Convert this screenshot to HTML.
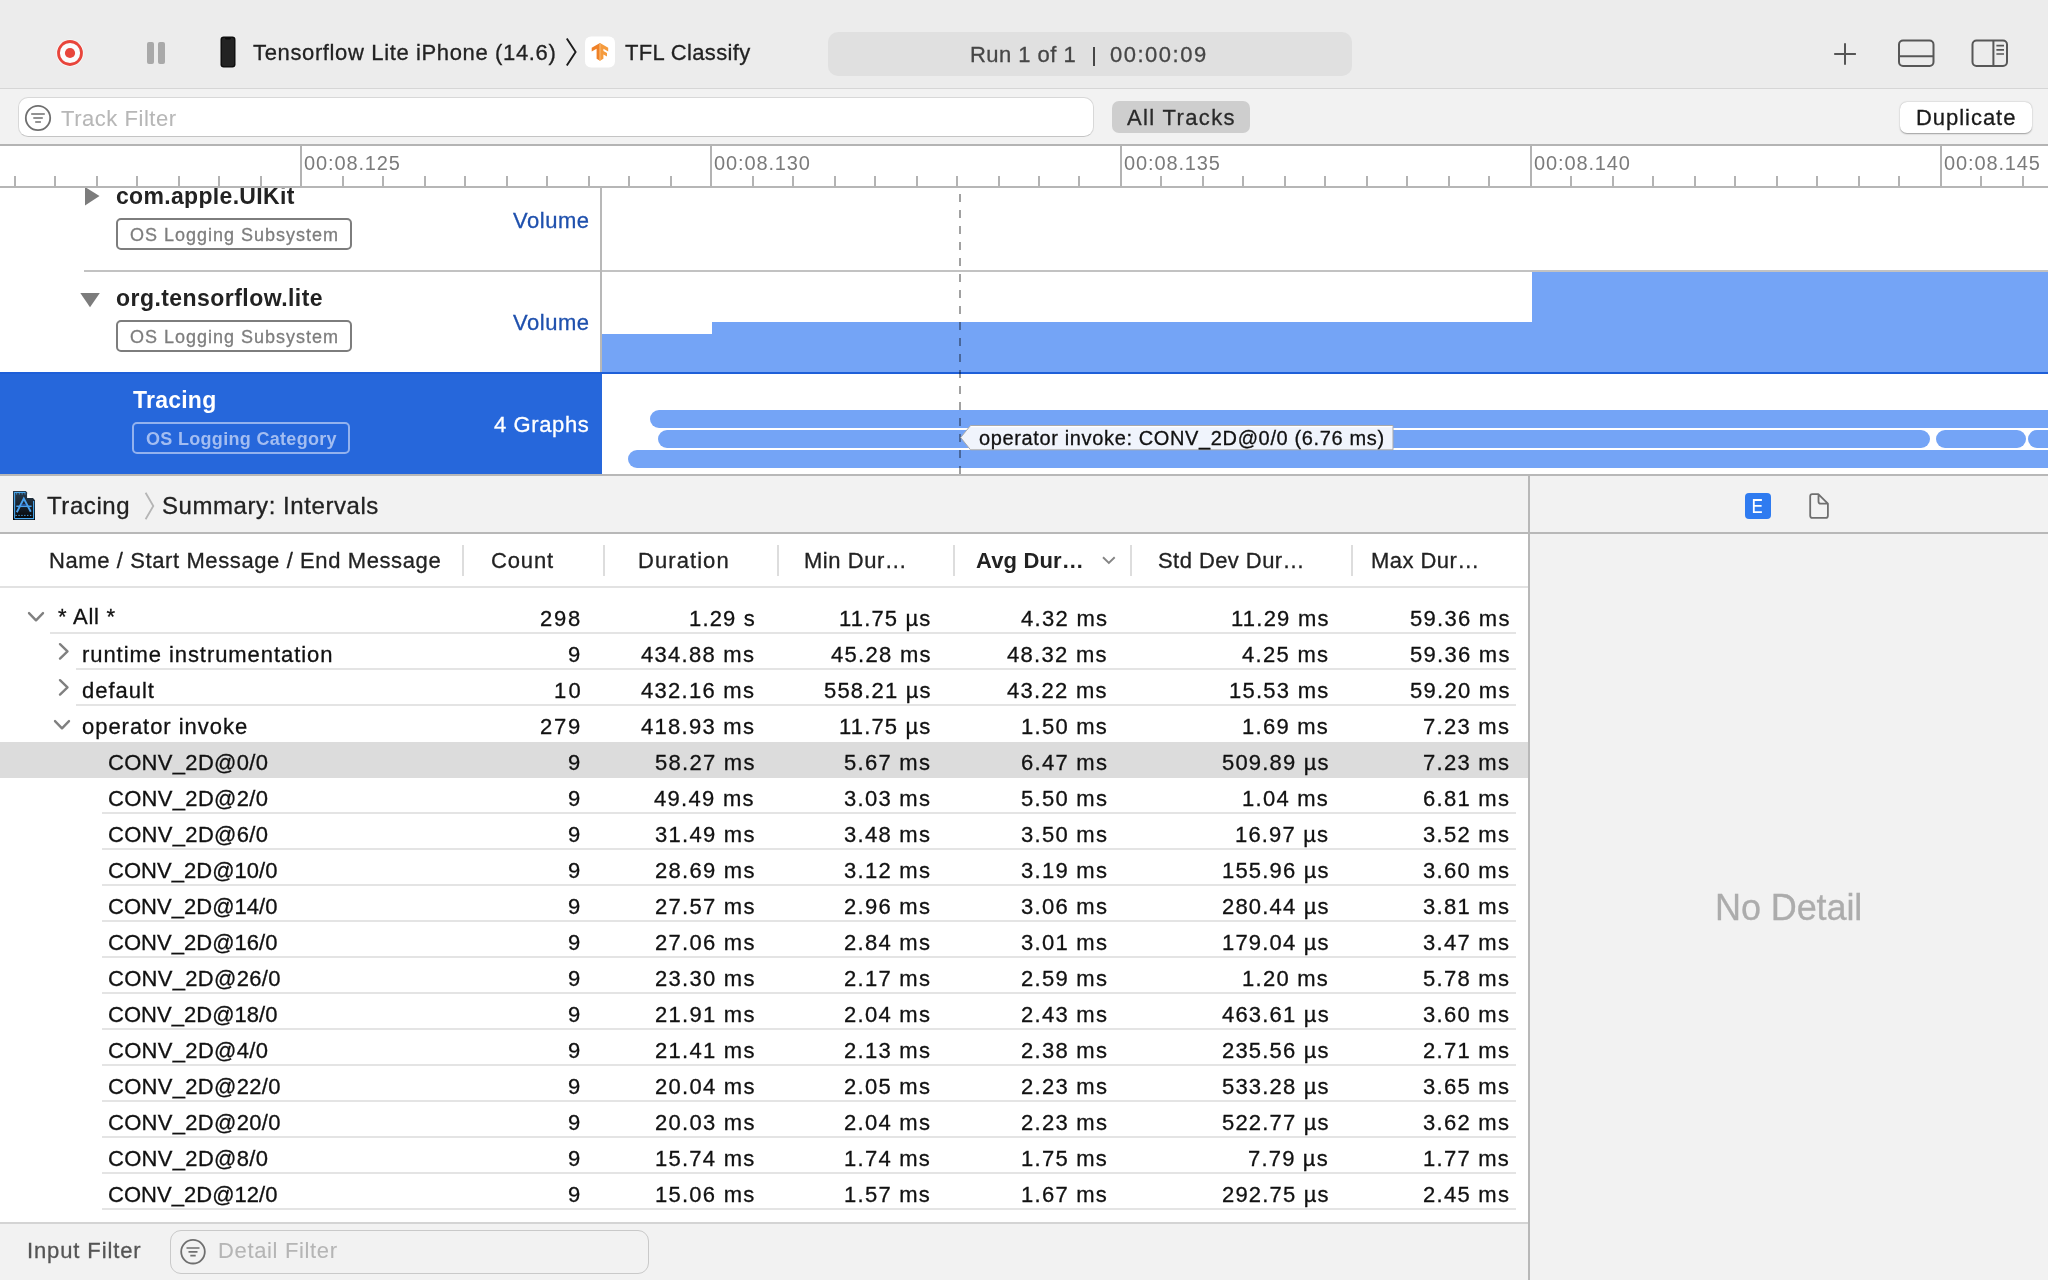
<!DOCTYPE html>
<html><head><meta charset="utf-8"><style>
html,body{margin:0;padding:0;width:2048px;height:1280px;overflow:hidden;background:#fff;font-family:"Liberation Sans",sans-serif;}
.t{position:absolute;white-space:pre;will-change:transform;}
</style></head><body>
<div style="position:absolute;left:0px;top:0px;width:2048px;height:88px;background:#ececec;"></div><div style="position:absolute;left:0px;top:88px;width:2048px;height:1px;background:#d6d6d6;"></div><div style="position:absolute;left:0px;top:89px;width:2048px;height:55px;background:#f2f2f2;"></div><div style="position:absolute;left:0px;top:144px;width:2048px;height:2px;background:#b4b4b4;"></div><div style="position:absolute;left:0px;top:146px;width:2048px;height:40px;background:#ffffff;"></div><div style="position:absolute;left:0px;top:186px;width:2048px;height:2px;background:#b6b6b6;"></div><div style="position:absolute;left:0px;top:188px;width:2048px;height:286px;background:#ffffff;"></div><div style="position:absolute;left:0px;top:474px;width:2048px;height:2px;background:#b8b8b8;"></div><div style="position:absolute;left:0px;top:476px;width:2048px;height:56px;background:#f2f2f2;"></div><div style="position:absolute;left:0px;top:532px;width:2048px;height:2px;background:#b8b8b8;"></div><div style="position:absolute;left:0px;top:534px;width:1528px;height:688px;background:#ffffff;"></div><div style="position:absolute;left:1528px;top:476px;width:2px;height:804px;background:#b8b8b8;"></div><div style="position:absolute;left:1530px;top:534px;width:518px;height:746px;background:#f2f2f2;"></div><div style="position:absolute;left:0px;top:1222px;width:1528px;height:2px;background:#d4d4d4;"></div><div style="position:absolute;left:0px;top:1224px;width:1528px;height:56px;background:#f2f2f2;"></div><svg style="position:absolute;left:0;top:0" width="2048" height="88">
<circle cx="70" cy="53" r="13.6" fill="#fbfbfb"/>
<circle cx="70" cy="53" r="11.5" fill="none" stroke="#e8453b" stroke-width="2.8"/>
<circle cx="70" cy="53" r="5.1" fill="#e8453b"/>
<rect x="147" y="42" width="7" height="22" rx="2" fill="#a9a9a9"/>
<rect x="158" y="42" width="7" height="22" rx="2" fill="#a9a9a9"/>
<rect x="220.5" y="36.5" width="15" height="31" rx="3.2" fill="#0c0c0c"/>
<rect x="221.8" y="37.8" width="12.4" height="28.4" rx="2.2" fill="#232323"/>
<path d="M225 37.8 H231 V38.6 Q231 39.4 230 39.4 H226 Q225 39.4 225 38.6 Z" fill="#0c0c0c"/>
<path d="M566.8 38.6 L575.6 52 L566.8 65.4" fill="none" stroke="#1c1c1c" stroke-width="1.9"/>
<rect x="585" y="36.5" width="30" height="31" rx="6" fill="#ffffff"/>
<path d="M600 43 L591.7 47.8 L591.7 51.6 L596.6 48.8 L596.6 58.8 L600 60.8 Z" fill="#ef8127"/>
<path d="M600 43 L608.2 47.8 L608.2 51.6 L603.4 48.8 L603.4 50.9 L607 53 L607 56.6 L603.4 54.5 L603.4 58.8 L600 60.8 Z" fill="#f59b3d"/>
<path d="M599.3 43.4 L600.7 43.4 L600.7 60.4 L599.3 60.4 Z" fill="#f8b46a"/>
<path d="M1845 43.2 V64.7 M1834.2 54 H1855.9" stroke="#555555" stroke-width="2"/>
<rect x="1899" y="40.5" width="34.5" height="25.5" rx="4" fill="none" stroke="#575757" stroke-width="2"/>
<path d="M1899 56.3 H1933.5" stroke="#575757" stroke-width="2"/>
<rect x="1972.5" y="40.5" width="34.5" height="25.5" rx="4" fill="none" stroke="#575757" stroke-width="2"/>
<path d="M1993.4 40.5 V66" stroke="#575757" stroke-width="2"/>
<path d="M1996.4 45.7 H2004 M1996.4 49.9 H2004 M1996.4 54 H2004" stroke="#555555" stroke-width="1.7"/>
</svg><div style="position:absolute;left:828px;top:32px;width:524px;height:44px;background:#e0e0e0;border-radius:10px;"></div><div style="position:absolute;left:1093px;top:46.5px;width:2px;height:19px;background:#464646;"></div><div style="position:absolute;left:18px;top:97px;width:1076px;height:40px;background:#ffffff;border-radius:10px;box-sizing:border-box;border:1px solid #d8d8d8;border-bottom-color:#c4c4c4;"></div><svg style="position:absolute;left:0;top:89" width="200" height="55">
<circle cx="38" cy="29" r="12.2" fill="none" stroke="#6f6f6f" stroke-width="1.8"/>
<path d="M31.2 25 H44.8 M33.3 29 H42.8 M35.2 33 H40.9" stroke="#6f6f6f" stroke-width="1.7"/>
</svg><div style="position:absolute;left:1112px;top:101px;width:138px;height:32px;background:#cecece;border-radius:7px;"></div><div style="position:absolute;left:1900px;top:102px;width:132px;height:31px;background:#ffffff;border-radius:7px;box-shadow:0 0.5px 1.5px rgba(0,0,0,0.35);"></div><svg style="position:absolute;left:0;top:146px" width="2048" height="40"><rect x="14" y="30" width="2" height="10" fill="#b3b3b3"/><rect x="54" y="30" width="2" height="10" fill="#b3b3b3"/><rect x="96" y="30" width="2" height="10" fill="#b3b3b3"/><rect x="136" y="30" width="2" height="10" fill="#b3b3b3"/><rect x="178" y="30" width="2" height="10" fill="#b3b3b3"/><rect x="218" y="30" width="2" height="10" fill="#b3b3b3"/><rect x="260" y="30" width="2" height="10" fill="#b3b3b3"/><rect x="300" y="0" width="2" height="40" fill="#b3b3b3"/><rect x="342" y="30" width="2" height="10" fill="#b3b3b3"/><rect x="382" y="30" width="2" height="10" fill="#b3b3b3"/><rect x="424" y="30" width="2" height="10" fill="#b3b3b3"/><rect x="464" y="30" width="2" height="10" fill="#b3b3b3"/><rect x="506" y="30" width="2" height="10" fill="#b3b3b3"/><rect x="546" y="30" width="2" height="10" fill="#b3b3b3"/><rect x="588" y="30" width="2" height="10" fill="#b3b3b3"/><rect x="628" y="30" width="2" height="10" fill="#b3b3b3"/><rect x="670" y="30" width="2" height="10" fill="#b3b3b3"/><rect x="710" y="0" width="2" height="40" fill="#b3b3b3"/><rect x="752" y="30" width="2" height="10" fill="#b3b3b3"/><rect x="792" y="30" width="2" height="10" fill="#b3b3b3"/><rect x="834" y="30" width="2" height="10" fill="#b3b3b3"/><rect x="874" y="30" width="2" height="10" fill="#b3b3b3"/><rect x="916" y="30" width="2" height="10" fill="#b3b3b3"/><rect x="956" y="30" width="2" height="10" fill="#b3b3b3"/><rect x="998" y="30" width="2" height="10" fill="#b3b3b3"/><rect x="1038" y="30" width="2" height="10" fill="#b3b3b3"/><rect x="1078" y="30" width="2" height="10" fill="#b3b3b3"/><rect x="1120" y="0" width="2" height="40" fill="#b3b3b3"/><rect x="1160" y="30" width="2" height="10" fill="#b3b3b3"/><rect x="1202" y="30" width="2" height="10" fill="#b3b3b3"/><rect x="1242" y="30" width="2" height="10" fill="#b3b3b3"/><rect x="1284" y="30" width="2" height="10" fill="#b3b3b3"/><rect x="1324" y="30" width="2" height="10" fill="#b3b3b3"/><rect x="1366" y="30" width="2" height="10" fill="#b3b3b3"/><rect x="1406" y="30" width="2" height="10" fill="#b3b3b3"/><rect x="1448" y="30" width="2" height="10" fill="#b3b3b3"/><rect x="1488" y="30" width="2" height="10" fill="#b3b3b3"/><rect x="1530" y="0" width="2" height="40" fill="#b3b3b3"/><rect x="1570" y="30" width="2" height="10" fill="#b3b3b3"/><rect x="1612" y="30" width="2" height="10" fill="#b3b3b3"/><rect x="1652" y="30" width="2" height="10" fill="#b3b3b3"/><rect x="1694" y="30" width="2" height="10" fill="#b3b3b3"/><rect x="1734" y="30" width="2" height="10" fill="#b3b3b3"/><rect x="1776" y="30" width="2" height="10" fill="#b3b3b3"/><rect x="1816" y="30" width="2" height="10" fill="#b3b3b3"/><rect x="1858" y="30" width="2" height="10" fill="#b3b3b3"/><rect x="1898" y="30" width="2" height="10" fill="#b3b3b3"/><rect x="1940" y="0" width="2" height="40" fill="#b3b3b3"/><rect x="1980" y="30" width="2" height="10" fill="#b3b3b3"/><rect x="2022" y="30" width="2" height="10" fill="#b3b3b3"/></svg><svg style="position:absolute;left:0;top:188px" width="600" height="20"><path d="M85 -1 L99.5 8 L85 17.5 Z" fill="#7c7c7c"/></svg><div style="position:absolute;left:116px;top:218px;width:236px;height:32px;background:transparent;box-sizing:border-box;border:2px solid #7d7d7d;border-radius:5px;"></div><div style="position:absolute;left:84px;top:270px;width:1964px;height:2px;background:#c2c2c2;"></div><div style="position:absolute;left:600px;top:188px;width:2px;height:184px;background:#b8b8b8;"></div><svg style="position:absolute;left:0;top:272px" width="600" height="60"><path d="M80.3 21 L99.8 21 L90 35.3 Z" fill="#7c7c7c"/></svg><div style="position:absolute;left:116px;top:320px;width:236px;height:32px;background:transparent;box-sizing:border-box;border:2px solid #7d7d7d;border-radius:5px;"></div><div style="position:absolute;left:602px;top:334px;width:110px;height:38px;background:#74a4f6;"></div><div style="position:absolute;left:712px;top:322px;width:820px;height:50px;background:#74a4f6;"></div><div style="position:absolute;left:1532px;top:272px;width:516px;height:100px;background:#74a4f6;"></div><div style="position:absolute;left:0px;top:372px;width:2048px;height:2px;background:#1e5fd8;"></div><div style="position:absolute;left:0px;top:374px;width:602px;height:100px;background:#2667db;"></div><div style="position:absolute;left:132px;top:422px;width:218px;height:32px;background:transparent;box-sizing:border-box;border:2px solid #93b2ee;border-radius:5px;"></div><div style="position:absolute;left:650px;top:410px;width:1420px;height:18px;background:#74a4f6;border-radius:9px;"></div><div style="position:absolute;left:658px;top:430px;width:1271.5px;height:18px;background:#74a4f6;border-radius:9px;"></div><div style="position:absolute;left:1936px;top:430px;width:90px;height:18px;background:#74a4f6;border-radius:9px;"></div><div style="position:absolute;left:2028px;top:430px;width:60px;height:18px;background:#74a4f6;border-radius:9px;"></div><div style="position:absolute;left:628px;top:450px;width:1440px;height:18px;background:#74a4f6;border-radius:9px;"></div><svg style="position:absolute;left:958px;top:188px" width="4" height="286"><path d="M2 6 V286" stroke="rgba(0,0,0,0.37)" stroke-width="2" stroke-dasharray="8 8"/></svg><svg style="position:absolute;left:955px;top:420px" width="445" height="36">
<path d="M15.5 5.5 H438 V29.8 H15.5 L5.7 17.6 Z" fill="#f0f4fc" stroke="#a9a9a9" stroke-width="1"/><path d="M16 6.6 H437.3" stroke="#ffffff" stroke-width="1.2"/>
</svg><svg style="position:absolute;left:0;top:476px" width="200" height="56">
<defs><linearGradient id="dg" x1="0" y1="0" x2="0" y2="1"><stop offset="0" stop-color="#2a3d4f"/><stop offset="0.55" stop-color="#16202a"/><stop offset="1" stop-color="#030303"/></linearGradient></defs>
<g transform="translate(0,-476)">
<path d="M13 491 H25.8 L27.2 492.6 V498 H33 L35 500.2 V520 H13 Z" fill="url(#dg)"/>
<path d="M27.3 493.3 V497.9 H32.2 Z" fill="#ffffff"/>
<path d="M14.6 518.6 V492.5 H25.5 M33.6 501 V518.6 H14.6" fill="none" stroke="#4aa8ee" stroke-width="1.1"/>
<path d="M16 493.9 H26" stroke="#4aa8ee" stroke-width="0.9" stroke-dasharray="1.2 1.6"/>
<path d="M15.5 515.4 H33" stroke="#4aa8ee" stroke-width="1" stroke-dasharray="1.3 1.6"/>
<path d="M15.2 517.2 H33" stroke="#0a0a0a" stroke-width="0.8"/>
<path d="M16.8 512.3 L23.8 498.6 L30.8 511.8" fill="none" stroke="#4aa3f0" stroke-width="1.9"/>
<path d="M16.3 506.3 H31.6" stroke="#4aa3f0" stroke-width="1.5"/>
<path d="M21.6 504.8 H26.2" stroke="#2a5fc0" stroke-width="1"/>
</g>
<path d="M145.6 16.8 L153.3 30 L145.6 43.2" fill="none" stroke="#b5b5b5" stroke-width="1.8"/>
</svg><div style="position:absolute;left:1745px;top:493px;width:26px;height:26px;background:#2f7bf0;border-radius:4px;"></div><svg style="position:absolute;left:1745px;top:493px" width="26" height="26"><path d="M16.9 7 H8.8 V19.1 H16.9 M8.8 12.9 H16.6" fill="none" stroke="#ffffff" stroke-width="1.8"/></svg><svg style="position:absolute;left:1800px;top:488px" width="40" height="40">
<path d="M12.3 6.1 H18.3 L27.9 15.7 V27.7 Q27.9 29.9 25.7 29.9 H12.4 Q10.2 29.9 10.2 27.7 V8.3 Q10.2 6.1 12.3 6.1 Z M18.5 6.1 V13.5 Q18.5 15.7 20.7 15.7 H27.9" fill="none" stroke="#6f6f6f" stroke-width="1.8" stroke-linejoin="round"/>
</svg><div style="position:absolute;left:462px;top:545px;width:2px;height:31px;background:#dddddd;"></div><div style="position:absolute;left:603px;top:545px;width:2px;height:31px;background:#dddddd;"></div><div style="position:absolute;left:777px;top:545px;width:2px;height:31px;background:#dddddd;"></div><div style="position:absolute;left:953px;top:545px;width:2px;height:31px;background:#dddddd;"></div><div style="position:absolute;left:1130px;top:545px;width:2px;height:31px;background:#dddddd;"></div><div style="position:absolute;left:1351px;top:545px;width:2px;height:31px;background:#dddddd;"></div><div style="position:absolute;left:0px;top:586px;width:1528px;height:2px;background:#e2e2e2;"></div><svg style="position:absolute;left:1095px;top:548px" width="28" height="24"><path d="M8 9.2 L13.85 14.9 L19.7 9.2" fill="none" stroke="#858585" stroke-width="1.9"/></svg><div style="position:absolute;left:0px;top:742px;width:1528px;height:36px;background:#dcdcdc;"></div><div style="position:absolute;left:50px;top:632px;width:1466px;height:2px;background:#e4e4e4;"></div><div style="position:absolute;left:76px;top:668px;width:1440px;height:2px;background:#e4e4e4;"></div><div style="position:absolute;left:76px;top:704px;width:1440px;height:2px;background:#e4e4e4;"></div><div style="position:absolute;left:102px;top:812px;width:1414px;height:2px;background:#e4e4e4;"></div><div style="position:absolute;left:102px;top:848px;width:1414px;height:2px;background:#e4e4e4;"></div><div style="position:absolute;left:102px;top:884px;width:1414px;height:2px;background:#e4e4e4;"></div><div style="position:absolute;left:102px;top:920px;width:1414px;height:2px;background:#e4e4e4;"></div><div style="position:absolute;left:102px;top:956px;width:1414px;height:2px;background:#e4e4e4;"></div><div style="position:absolute;left:102px;top:992px;width:1414px;height:2px;background:#e4e4e4;"></div><div style="position:absolute;left:102px;top:1028px;width:1414px;height:2px;background:#e4e4e4;"></div><div style="position:absolute;left:102px;top:1064px;width:1414px;height:2px;background:#e4e4e4;"></div><div style="position:absolute;left:102px;top:1100px;width:1414px;height:2px;background:#e4e4e4;"></div><div style="position:absolute;left:102px;top:1136px;width:1414px;height:2px;background:#e4e4e4;"></div><div style="position:absolute;left:102px;top:1172px;width:1414px;height:2px;background:#e4e4e4;"></div><div style="position:absolute;left:102px;top:1208px;width:1414px;height:2px;background:#e4e4e4;"></div><svg style="position:absolute;left:0;top:0" width="200" height="800"><path d="M29 613.1 L36 620.3 L43 613.1" fill="none" stroke="#808080" stroke-width="2.4" stroke-linecap="round" stroke-linejoin="round"/><path d="M60 644.2 L67.5 651.4 L60 658.6" fill="none" stroke="#808080" stroke-width="2.4" stroke-linecap="round" stroke-linejoin="round"/><path d="M60 680.2 L67.5 687.4 L60 694.6" fill="none" stroke="#808080" stroke-width="2.4" stroke-linecap="round" stroke-linejoin="round"/><path d="M55 721.1 L62 728.3 L69 721.1" fill="none" stroke="#808080" stroke-width="2.4" stroke-linecap="round" stroke-linejoin="round"/></svg><div style="position:absolute;left:170px;top:1230px;width:479px;height:44px;background:transparent;box-sizing:border-box;border:1px solid #c9c9c9;border-radius:11px;"></div><svg style="position:absolute;left:170px;top:1230px" width="60" height="44">
<circle cx="23" cy="21.7" r="11.8" fill="none" stroke="#6f6f6f" stroke-width="1.8"/>
<path d="M16.5 18 H29.5 M18.5 21.9 H27.5 M20.3 25.7 H25.7" stroke="#6f6f6f" stroke-width="1.7"/>
</svg>
<div class="t" style="left:252.90px;top:42px;font-size:22px;line-height:22px;color:#222;letter-spacing:0.636px;-webkit-text-stroke:0.3px #222;">Tensorflow Lite iPhone (14.6)</div><div class="t" style="left:625.00px;top:42px;font-size:22px;line-height:22px;color:#222;letter-spacing:0.345px;-webkit-text-stroke:0.3px #222;">TFL Classify</div><div class="t" style="left:969.70px;top:44px;font-size:22px;line-height:22px;color:#464646;letter-spacing:0.467px;-webkit-text-stroke:0.3px #464646;">Run 1 of 1</div><div class="t" style="left:1109.80px;top:44px;font-size:22px;line-height:22px;color:#464646;letter-spacing:1.500px;-webkit-text-stroke:0.3px #464646;">00:00:09</div><div class="t" style="left:60.90px;top:108px;font-size:22px;line-height:22px;color:#b7b7b7;letter-spacing:0.536px;-webkit-text-stroke:0.1px #b7b7b7;">Track Filter</div><div class="t" style="left:1127.30px;top:107px;font-size:22px;line-height:22px;color:#2a2a2a;letter-spacing:1.356px;-webkit-text-stroke:0.3px #2a2a2a;">All Tracks</div><div class="t" style="left:1915.50px;top:107px;font-size:22px;line-height:22px;color:#1a1a1a;letter-spacing:0.963px;-webkit-text-stroke:0.3px #1a1a1a;">Duplicate</div><div class="t" style="left:304.30px;top:153px;font-size:20px;line-height:20px;color:#7b7b7b;letter-spacing:0.875px;-webkit-text-stroke:0px #7b7b7b;">00:08.125</div><div class="t" style="left:714.30px;top:153px;font-size:20px;line-height:20px;color:#7b7b7b;letter-spacing:0.875px;-webkit-text-stroke:0px #7b7b7b;">00:08.130</div><div class="t" style="left:1124.30px;top:153px;font-size:20px;line-height:20px;color:#7b7b7b;letter-spacing:0.875px;-webkit-text-stroke:0px #7b7b7b;">00:08.135</div><div class="t" style="left:1534.30px;top:153px;font-size:20px;line-height:20px;color:#7b7b7b;letter-spacing:0.875px;-webkit-text-stroke:0px #7b7b7b;">00:08.140</div><div class="t" style="left:1944.30px;top:153px;font-size:20px;line-height:20px;color:#7b7b7b;letter-spacing:0.875px;-webkit-text-stroke:0px #7b7b7b;">00:08.145</div><div class="t" style="left:115.60px;top:185px;font-size:23px;line-height:23px;color:#222;letter-spacing:0.321px;font-weight:700;clip-path:inset(3px -50px 0 -50px);">com.apple.UIKit</div><div class="t" style="left:129.80px;top:226px;font-size:18px;line-height:18px;color:#7d7d7d;letter-spacing:1.000px;-webkit-text-stroke:0.3px #7d7d7d;">OS Logging Subsystem</div><div class="t" style="left:512.50px;top:210px;font-size:22px;line-height:22px;color:#1f50ad;letter-spacing:0.520px;-webkit-text-stroke:0.3px #1f50ad;">Volume</div><div class="t" style="left:116.00px;top:287px;font-size:23px;line-height:23px;color:#222;letter-spacing:0.450px;font-weight:700;">org.tensorflow.lite</div><div class="t" style="left:129.80px;top:328px;font-size:18px;line-height:18px;color:#7d7d7d;letter-spacing:1.000px;-webkit-text-stroke:0.3px #7d7d7d;">OS Logging Subsystem</div><div class="t" style="left:512.50px;top:312px;font-size:22px;line-height:22px;color:#1f50ad;letter-spacing:0.520px;-webkit-text-stroke:0.3px #1f50ad;">Volume</div><div class="t" style="left:132.90px;top:389px;font-size:23px;line-height:23px;color:#ffffff;letter-spacing:0.233px;font-weight:700;">Tracing</div><div class="t" style="left:145.70px;top:430px;font-size:18px;line-height:18px;color:#a3bdf1;letter-spacing:0.311px;font-weight:700;">OS Logging Category</div><div class="t" style="left:493.80px;top:414px;font-size:22px;line-height:22px;color:#ffffff;letter-spacing:0.614px;-webkit-text-stroke:0.3px #ffffff;">4 Graphs</div><div class="t" style="left:978.70px;top:428px;font-size:20px;line-height:20px;color:#111;letter-spacing:0.635px;-webkit-text-stroke:0.3px #111;">operator invoke: CONV_2D@0/0 (6.76 ms)</div><div class="t" style="left:46.90px;top:494px;font-size:24px;line-height:24px;color:#222;letter-spacing:0.583px;-webkit-text-stroke:0.3px #222;">Tracing</div><div class="t" style="left:162.10px;top:494px;font-size:24px;line-height:24px;color:#222;letter-spacing:0.565px;-webkit-text-stroke:0.3px #222;">Summary: Intervals</div><div class="t" style="left:1714.80px;top:890px;font-size:36px;line-height:36px;color:#acacac;letter-spacing:-0.087px;-webkit-text-stroke:0.3px #acacac;">No Detail</div><div class="t" style="left:49.30px;top:550px;font-size:22px;line-height:22px;color:#222;letter-spacing:0.603px;-webkit-text-stroke:0.3px #222;">Name / Start Message / End Message</div><div class="t" style="left:491.40px;top:550px;font-size:22px;line-height:22px;color:#222;letter-spacing:0.875px;-webkit-text-stroke:0.3px #222;">Count</div><div class="t" style="left:638.40px;top:550px;font-size:22px;line-height:22px;color:#222;letter-spacing:1.071px;-webkit-text-stroke:0.3px #222;">Duration</div><div class="t" style="left:804.00px;top:550px;font-size:22px;line-height:22px;color:#222;letter-spacing:0.543px;-webkit-text-stroke:0.3px #222;">Min Dur…</div><div class="t" style="left:975.60px;top:550px;font-size:22px;line-height:22px;color:#222;letter-spacing:0.143px;font-weight:700;">Avg Dur…</div><div class="t" style="left:1157.80px;top:550px;font-size:22px;line-height:22px;color:#222;letter-spacing:0.436px;-webkit-text-stroke:0.3px #222;">Std Dev Dur…</div><div class="t" style="left:1371.40px;top:550px;font-size:22px;line-height:22px;color:#222;letter-spacing:0.457px;-webkit-text-stroke:0.3px #222;">Max Dur…</div><div class="t" style="left:58.20px;top:606px;font-size:22px;line-height:22px;color:#111;letter-spacing:0.765px;-webkit-text-stroke:0.3px #111;">* All *</div><div class="t" style="left:540.20px;top:608px;font-size:22px;line-height:22px;color:#111;letter-spacing:1.750px;-webkit-text-stroke:0.3px #111;">298</div><div class="t" style="left:688.70px;top:608px;font-size:22px;line-height:22px;color:#111;letter-spacing:1.140px;-webkit-text-stroke:0.3px #111;">1.29 s</div><div class="t" style="left:838.80px;top:608px;font-size:22px;line-height:22px;color:#111;letter-spacing:1.157px;-webkit-text-stroke:0.3px #111;">11.75 µs</div><div class="t" style="left:1020.50px;top:608px;font-size:22px;line-height:22px;color:#111;letter-spacing:1.300px;-webkit-text-stroke:0.3px #111;">4.32 ms</div><div class="t" style="left:1230.90px;top:608px;font-size:22px;line-height:22px;color:#111;letter-spacing:1.229px;-webkit-text-stroke:0.3px #111;">11.29 ms</div><div class="t" style="left:1409.85px;top:608px;font-size:22px;line-height:22px;color:#111;letter-spacing:1.271px;-webkit-text-stroke:0.3px #111;">59.36 ms</div><div class="t" style="left:81.80px;top:644px;font-size:22px;line-height:22px;color:#111;letter-spacing:0.933px;-webkit-text-stroke:0.3px #111;">runtime instrumentation</div><div class="t" style="left:567.70px;top:644px;font-size:22px;line-height:22px;color:#111;letter-spacing:0.000px;-webkit-text-stroke:0.3px #111;">9</div><div class="t" style="left:641.20px;top:644px;font-size:22px;line-height:22px;color:#111;letter-spacing:1.275px;-webkit-text-stroke:0.3px #111;">434.88 ms</div><div class="t" style="left:830.90px;top:644px;font-size:22px;line-height:22px;color:#111;letter-spacing:1.286px;-webkit-text-stroke:0.3px #111;">45.28 ms</div><div class="t" style="left:1007.30px;top:644px;font-size:22px;line-height:22px;color:#111;letter-spacing:1.286px;-webkit-text-stroke:0.3px #111;">48.32 ms</div><div class="t" style="left:1241.70px;top:644px;font-size:22px;line-height:22px;color:#111;letter-spacing:1.300px;-webkit-text-stroke:0.3px #111;">4.25 ms</div><div class="t" style="left:1409.85px;top:644px;font-size:22px;line-height:22px;color:#111;letter-spacing:1.271px;-webkit-text-stroke:0.3px #111;">59.36 ms</div><div class="t" style="left:81.80px;top:680px;font-size:22px;line-height:22px;color:#111;letter-spacing:0.975px;-webkit-text-stroke:0.3px #111;">default</div><div class="t" style="left:553.50px;top:680px;font-size:22px;line-height:22px;color:#111;letter-spacing:2.200px;-webkit-text-stroke:0.3px #111;">10</div><div class="t" style="left:641.20px;top:680px;font-size:22px;line-height:22px;color:#111;letter-spacing:1.275px;-webkit-text-stroke:0.3px #111;">432.16 ms</div><div class="t" style="left:824.40px;top:680px;font-size:22px;line-height:22px;color:#111;letter-spacing:1.188px;-webkit-text-stroke:0.3px #111;">558.21 µs</div><div class="t" style="left:1007.30px;top:680px;font-size:22px;line-height:22px;color:#111;letter-spacing:1.286px;-webkit-text-stroke:0.3px #111;">43.22 ms</div><div class="t" style="left:1228.70px;top:680px;font-size:22px;line-height:22px;color:#111;letter-spacing:1.257px;-webkit-text-stroke:0.3px #111;">15.53 ms</div><div class="t" style="left:1409.85px;top:680px;font-size:22px;line-height:22px;color:#111;letter-spacing:1.271px;-webkit-text-stroke:0.3px #111;">59.20 ms</div><div class="t" style="left:81.80px;top:716px;font-size:22px;line-height:22px;color:#111;letter-spacing:0.964px;-webkit-text-stroke:0.3px #111;">operator invoke</div><div class="t" style="left:540.20px;top:716px;font-size:22px;line-height:22px;color:#111;letter-spacing:1.750px;-webkit-text-stroke:0.3px #111;">279</div><div class="t" style="left:641.20px;top:716px;font-size:22px;line-height:22px;color:#111;letter-spacing:1.275px;-webkit-text-stroke:0.3px #111;">418.93 ms</div><div class="t" style="left:838.80px;top:716px;font-size:22px;line-height:22px;color:#111;letter-spacing:1.157px;-webkit-text-stroke:0.3px #111;">11.75 µs</div><div class="t" style="left:1020.70px;top:716px;font-size:22px;line-height:22px;color:#111;letter-spacing:1.267px;-webkit-text-stroke:0.3px #111;">1.50 ms</div><div class="t" style="left:1241.90px;top:716px;font-size:22px;line-height:22px;color:#111;letter-spacing:1.267px;-webkit-text-stroke:0.3px #111;">1.69 ms</div><div class="t" style="left:1423.05px;top:716px;font-size:22px;line-height:22px;color:#111;letter-spacing:1.283px;-webkit-text-stroke:0.3px #111;">7.23 ms</div><div class="t" style="left:108.10px;top:752px;font-size:22px;line-height:22px;color:#111;letter-spacing:0.310px;-webkit-text-stroke:0.3px #111;">CONV_2D@0/0</div><div class="t" style="left:567.70px;top:752px;font-size:22px;line-height:22px;color:#111;letter-spacing:0.000px;-webkit-text-stroke:0.3px #111;">9</div><div class="t" style="left:654.50px;top:752px;font-size:22px;line-height:22px;color:#111;letter-spacing:1.271px;-webkit-text-stroke:0.3px #111;">58.27 ms</div><div class="t" style="left:844.20px;top:752px;font-size:22px;line-height:22px;color:#111;letter-spacing:1.283px;-webkit-text-stroke:0.3px #111;">5.67 ms</div><div class="t" style="left:1020.60px;top:752px;font-size:22px;line-height:22px;color:#111;letter-spacing:1.283px;-webkit-text-stroke:0.3px #111;">6.47 ms</div><div class="t" style="left:1222.00px;top:752px;font-size:22px;line-height:22px;color:#111;letter-spacing:1.188px;-webkit-text-stroke:0.3px #111;">509.89 µs</div><div class="t" style="left:1423.05px;top:752px;font-size:22px;line-height:22px;color:#111;letter-spacing:1.283px;-webkit-text-stroke:0.3px #111;">7.23 ms</div><div class="t" style="left:108.10px;top:788px;font-size:22px;line-height:22px;color:#111;letter-spacing:0.310px;-webkit-text-stroke:0.3px #111;">CONV_2D@2/0</div><div class="t" style="left:567.70px;top:788px;font-size:22px;line-height:22px;color:#111;letter-spacing:0.000px;-webkit-text-stroke:0.3px #111;">9</div><div class="t" style="left:654.40px;top:788px;font-size:22px;line-height:22px;color:#111;letter-spacing:1.286px;-webkit-text-stroke:0.3px #111;">49.49 ms</div><div class="t" style="left:844.20px;top:788px;font-size:22px;line-height:22px;color:#111;letter-spacing:1.283px;-webkit-text-stroke:0.3px #111;">3.03 ms</div><div class="t" style="left:1020.60px;top:788px;font-size:22px;line-height:22px;color:#111;letter-spacing:1.283px;-webkit-text-stroke:0.3px #111;">5.50 ms</div><div class="t" style="left:1241.90px;top:788px;font-size:22px;line-height:22px;color:#111;letter-spacing:1.267px;-webkit-text-stroke:0.3px #111;">1.04 ms</div><div class="t" style="left:1423.05px;top:788px;font-size:22px;line-height:22px;color:#111;letter-spacing:1.283px;-webkit-text-stroke:0.3px #111;">6.81 ms</div><div class="t" style="left:108.10px;top:824px;font-size:22px;line-height:22px;color:#111;letter-spacing:0.310px;-webkit-text-stroke:0.3px #111;">CONV_2D@6/0</div><div class="t" style="left:567.70px;top:824px;font-size:22px;line-height:22px;color:#111;letter-spacing:0.000px;-webkit-text-stroke:0.3px #111;">9</div><div class="t" style="left:654.50px;top:824px;font-size:22px;line-height:22px;color:#111;letter-spacing:1.271px;-webkit-text-stroke:0.3px #111;">31.49 ms</div><div class="t" style="left:844.20px;top:824px;font-size:22px;line-height:22px;color:#111;letter-spacing:1.283px;-webkit-text-stroke:0.3px #111;">3.48 ms</div><div class="t" style="left:1020.60px;top:824px;font-size:22px;line-height:22px;color:#111;letter-spacing:1.283px;-webkit-text-stroke:0.3px #111;">3.50 ms</div><div class="t" style="left:1235.30px;top:824px;font-size:22px;line-height:22px;color:#111;letter-spacing:1.171px;-webkit-text-stroke:0.3px #111;">16.97 µs</div><div class="t" style="left:1423.05px;top:824px;font-size:22px;line-height:22px;color:#111;letter-spacing:1.283px;-webkit-text-stroke:0.3px #111;">3.52 ms</div><div class="t" style="left:108.10px;top:860px;font-size:22px;line-height:22px;color:#111;letter-spacing:0.040px;-webkit-text-stroke:0.3px #111;">CONV_2D@10/0</div><div class="t" style="left:567.70px;top:860px;font-size:22px;line-height:22px;color:#111;letter-spacing:0.000px;-webkit-text-stroke:0.3px #111;">9</div><div class="t" style="left:654.50px;top:860px;font-size:22px;line-height:22px;color:#111;letter-spacing:1.271px;-webkit-text-stroke:0.3px #111;">28.69 ms</div><div class="t" style="left:844.20px;top:860px;font-size:22px;line-height:22px;color:#111;letter-spacing:1.283px;-webkit-text-stroke:0.3px #111;">3.12 ms</div><div class="t" style="left:1020.60px;top:860px;font-size:22px;line-height:22px;color:#111;letter-spacing:1.283px;-webkit-text-stroke:0.3px #111;">3.19 ms</div><div class="t" style="left:1222.10px;top:860px;font-size:22px;line-height:22px;color:#111;letter-spacing:1.175px;-webkit-text-stroke:0.3px #111;">155.96 µs</div><div class="t" style="left:1423.05px;top:860px;font-size:22px;line-height:22px;color:#111;letter-spacing:1.283px;-webkit-text-stroke:0.3px #111;">3.60 ms</div><div class="t" style="left:108.10px;top:896px;font-size:22px;line-height:22px;color:#111;letter-spacing:0.040px;-webkit-text-stroke:0.3px #111;">CONV_2D@14/0</div><div class="t" style="left:567.70px;top:896px;font-size:22px;line-height:22px;color:#111;letter-spacing:0.000px;-webkit-text-stroke:0.3px #111;">9</div><div class="t" style="left:654.50px;top:896px;font-size:22px;line-height:22px;color:#111;letter-spacing:1.271px;-webkit-text-stroke:0.3px #111;">27.57 ms</div><div class="t" style="left:844.20px;top:896px;font-size:22px;line-height:22px;color:#111;letter-spacing:1.283px;-webkit-text-stroke:0.3px #111;">2.96 ms</div><div class="t" style="left:1020.60px;top:896px;font-size:22px;line-height:22px;color:#111;letter-spacing:1.283px;-webkit-text-stroke:0.3px #111;">3.06 ms</div><div class="t" style="left:1222.00px;top:896px;font-size:22px;line-height:22px;color:#111;letter-spacing:1.188px;-webkit-text-stroke:0.3px #111;">280.44 µs</div><div class="t" style="left:1423.05px;top:896px;font-size:22px;line-height:22px;color:#111;letter-spacing:1.283px;-webkit-text-stroke:0.3px #111;">3.81 ms</div><div class="t" style="left:108.10px;top:932px;font-size:22px;line-height:22px;color:#111;letter-spacing:0.040px;-webkit-text-stroke:0.3px #111;">CONV_2D@16/0</div><div class="t" style="left:567.70px;top:932px;font-size:22px;line-height:22px;color:#111;letter-spacing:0.000px;-webkit-text-stroke:0.3px #111;">9</div><div class="t" style="left:654.50px;top:932px;font-size:22px;line-height:22px;color:#111;letter-spacing:1.271px;-webkit-text-stroke:0.3px #111;">27.06 ms</div><div class="t" style="left:844.20px;top:932px;font-size:22px;line-height:22px;color:#111;letter-spacing:1.283px;-webkit-text-stroke:0.3px #111;">2.84 ms</div><div class="t" style="left:1020.60px;top:932px;font-size:22px;line-height:22px;color:#111;letter-spacing:1.283px;-webkit-text-stroke:0.3px #111;">3.01 ms</div><div class="t" style="left:1222.10px;top:932px;font-size:22px;line-height:22px;color:#111;letter-spacing:1.175px;-webkit-text-stroke:0.3px #111;">179.04 µs</div><div class="t" style="left:1423.05px;top:932px;font-size:22px;line-height:22px;color:#111;letter-spacing:1.283px;-webkit-text-stroke:0.3px #111;">3.47 ms</div><div class="t" style="left:108.10px;top:968px;font-size:22px;line-height:22px;color:#111;letter-spacing:0.304px;-webkit-text-stroke:0.3px #111;">CONV_2D@26/0</div><div class="t" style="left:567.70px;top:968px;font-size:22px;line-height:22px;color:#111;letter-spacing:0.000px;-webkit-text-stroke:0.3px #111;">9</div><div class="t" style="left:654.50px;top:968px;font-size:22px;line-height:22px;color:#111;letter-spacing:1.271px;-webkit-text-stroke:0.3px #111;">23.30 ms</div><div class="t" style="left:844.20px;top:968px;font-size:22px;line-height:22px;color:#111;letter-spacing:1.283px;-webkit-text-stroke:0.3px #111;">2.17 ms</div><div class="t" style="left:1020.60px;top:968px;font-size:22px;line-height:22px;color:#111;letter-spacing:1.283px;-webkit-text-stroke:0.3px #111;">2.59 ms</div><div class="t" style="left:1241.90px;top:968px;font-size:22px;line-height:22px;color:#111;letter-spacing:1.267px;-webkit-text-stroke:0.3px #111;">1.20 ms</div><div class="t" style="left:1423.05px;top:968px;font-size:22px;line-height:22px;color:#111;letter-spacing:1.283px;-webkit-text-stroke:0.3px #111;">5.78 ms</div><div class="t" style="left:108.10px;top:1004px;font-size:22px;line-height:22px;color:#111;letter-spacing:0.040px;-webkit-text-stroke:0.3px #111;">CONV_2D@18/0</div><div class="t" style="left:567.70px;top:1004px;font-size:22px;line-height:22px;color:#111;letter-spacing:0.000px;-webkit-text-stroke:0.3px #111;">9</div><div class="t" style="left:654.50px;top:1004px;font-size:22px;line-height:22px;color:#111;letter-spacing:1.271px;-webkit-text-stroke:0.3px #111;">21.91 ms</div><div class="t" style="left:844.20px;top:1004px;font-size:22px;line-height:22px;color:#111;letter-spacing:1.283px;-webkit-text-stroke:0.3px #111;">2.04 ms</div><div class="t" style="left:1020.60px;top:1004px;font-size:22px;line-height:22px;color:#111;letter-spacing:1.283px;-webkit-text-stroke:0.3px #111;">2.43 ms</div><div class="t" style="left:1221.90px;top:1004px;font-size:22px;line-height:22px;color:#111;letter-spacing:1.200px;-webkit-text-stroke:0.3px #111;">463.61 µs</div><div class="t" style="left:1423.05px;top:1004px;font-size:22px;line-height:22px;color:#111;letter-spacing:1.283px;-webkit-text-stroke:0.3px #111;">3.60 ms</div><div class="t" style="left:108.10px;top:1040px;font-size:22px;line-height:22px;color:#111;letter-spacing:0.310px;-webkit-text-stroke:0.3px #111;">CONV_2D@4/0</div><div class="t" style="left:567.70px;top:1040px;font-size:22px;line-height:22px;color:#111;letter-spacing:0.000px;-webkit-text-stroke:0.3px #111;">9</div><div class="t" style="left:654.50px;top:1040px;font-size:22px;line-height:22px;color:#111;letter-spacing:1.271px;-webkit-text-stroke:0.3px #111;">21.41 ms</div><div class="t" style="left:844.20px;top:1040px;font-size:22px;line-height:22px;color:#111;letter-spacing:1.283px;-webkit-text-stroke:0.3px #111;">2.13 ms</div><div class="t" style="left:1020.60px;top:1040px;font-size:22px;line-height:22px;color:#111;letter-spacing:1.283px;-webkit-text-stroke:0.3px #111;">2.38 ms</div><div class="t" style="left:1222.00px;top:1040px;font-size:22px;line-height:22px;color:#111;letter-spacing:1.188px;-webkit-text-stroke:0.3px #111;">235.56 µs</div><div class="t" style="left:1423.05px;top:1040px;font-size:22px;line-height:22px;color:#111;letter-spacing:1.283px;-webkit-text-stroke:0.3px #111;">2.71 ms</div><div class="t" style="left:108.10px;top:1076px;font-size:22px;line-height:22px;color:#111;letter-spacing:0.304px;-webkit-text-stroke:0.3px #111;">CONV_2D@22/0</div><div class="t" style="left:567.70px;top:1076px;font-size:22px;line-height:22px;color:#111;letter-spacing:0.000px;-webkit-text-stroke:0.3px #111;">9</div><div class="t" style="left:654.50px;top:1076px;font-size:22px;line-height:22px;color:#111;letter-spacing:1.271px;-webkit-text-stroke:0.3px #111;">20.04 ms</div><div class="t" style="left:844.20px;top:1076px;font-size:22px;line-height:22px;color:#111;letter-spacing:1.283px;-webkit-text-stroke:0.3px #111;">2.05 ms</div><div class="t" style="left:1020.60px;top:1076px;font-size:22px;line-height:22px;color:#111;letter-spacing:1.283px;-webkit-text-stroke:0.3px #111;">2.23 ms</div><div class="t" style="left:1222.00px;top:1076px;font-size:22px;line-height:22px;color:#111;letter-spacing:1.188px;-webkit-text-stroke:0.3px #111;">533.28 µs</div><div class="t" style="left:1423.05px;top:1076px;font-size:22px;line-height:22px;color:#111;letter-spacing:1.283px;-webkit-text-stroke:0.3px #111;">3.65 ms</div><div class="t" style="left:108.10px;top:1112px;font-size:22px;line-height:22px;color:#111;letter-spacing:0.304px;-webkit-text-stroke:0.3px #111;">CONV_2D@20/0</div><div class="t" style="left:567.70px;top:1112px;font-size:22px;line-height:22px;color:#111;letter-spacing:0.000px;-webkit-text-stroke:0.3px #111;">9</div><div class="t" style="left:654.50px;top:1112px;font-size:22px;line-height:22px;color:#111;letter-spacing:1.271px;-webkit-text-stroke:0.3px #111;">20.03 ms</div><div class="t" style="left:844.20px;top:1112px;font-size:22px;line-height:22px;color:#111;letter-spacing:1.283px;-webkit-text-stroke:0.3px #111;">2.04 ms</div><div class="t" style="left:1020.60px;top:1112px;font-size:22px;line-height:22px;color:#111;letter-spacing:1.283px;-webkit-text-stroke:0.3px #111;">2.23 ms</div><div class="t" style="left:1222.00px;top:1112px;font-size:22px;line-height:22px;color:#111;letter-spacing:1.188px;-webkit-text-stroke:0.3px #111;">522.77 µs</div><div class="t" style="left:1423.05px;top:1112px;font-size:22px;line-height:22px;color:#111;letter-spacing:1.283px;-webkit-text-stroke:0.3px #111;">3.62 ms</div><div class="t" style="left:108.10px;top:1148px;font-size:22px;line-height:22px;color:#111;letter-spacing:0.310px;-webkit-text-stroke:0.3px #111;">CONV_2D@8/0</div><div class="t" style="left:567.70px;top:1148px;font-size:22px;line-height:22px;color:#111;letter-spacing:0.000px;-webkit-text-stroke:0.3px #111;">9</div><div class="t" style="left:654.60px;top:1148px;font-size:22px;line-height:22px;color:#111;letter-spacing:1.257px;-webkit-text-stroke:0.3px #111;">15.74 ms</div><div class="t" style="left:844.30px;top:1148px;font-size:22px;line-height:22px;color:#111;letter-spacing:1.267px;-webkit-text-stroke:0.3px #111;">1.74 ms</div><div class="t" style="left:1020.70px;top:1148px;font-size:22px;line-height:22px;color:#111;letter-spacing:1.267px;-webkit-text-stroke:0.3px #111;">1.75 ms</div><div class="t" style="left:1248.40px;top:1148px;font-size:22px;line-height:22px;color:#111;letter-spacing:1.183px;-webkit-text-stroke:0.3px #111;">7.79 µs</div><div class="t" style="left:1423.15px;top:1148px;font-size:22px;line-height:22px;color:#111;letter-spacing:1.267px;-webkit-text-stroke:0.3px #111;">1.77 ms</div><div class="t" style="left:108.10px;top:1184px;font-size:22px;line-height:22px;color:#111;letter-spacing:0.040px;-webkit-text-stroke:0.3px #111;">CONV_2D@12/0</div><div class="t" style="left:567.70px;top:1184px;font-size:22px;line-height:22px;color:#111;letter-spacing:0.000px;-webkit-text-stroke:0.3px #111;">9</div><div class="t" style="left:654.60px;top:1184px;font-size:22px;line-height:22px;color:#111;letter-spacing:1.257px;-webkit-text-stroke:0.3px #111;">15.06 ms</div><div class="t" style="left:844.30px;top:1184px;font-size:22px;line-height:22px;color:#111;letter-spacing:1.267px;-webkit-text-stroke:0.3px #111;">1.57 ms</div><div class="t" style="left:1020.70px;top:1184px;font-size:22px;line-height:22px;color:#111;letter-spacing:1.267px;-webkit-text-stroke:0.3px #111;">1.67 ms</div><div class="t" style="left:1222.00px;top:1184px;font-size:22px;line-height:22px;color:#111;letter-spacing:1.188px;-webkit-text-stroke:0.3px #111;">292.75 µs</div><div class="t" style="left:1423.05px;top:1184px;font-size:22px;line-height:22px;color:#111;letter-spacing:1.283px;-webkit-text-stroke:0.3px #111;">2.45 ms</div><div class="t" style="left:26.90px;top:1240px;font-size:22px;line-height:22px;color:#555;letter-spacing:0.882px;-webkit-text-stroke:0.3px #555;">Input Filter</div><div class="t" style="left:217.50px;top:1240px;font-size:22px;line-height:22px;color:#b5b5b5;letter-spacing:0.650px;-webkit-text-stroke:0.1px #b5b5b5;">Detail Filter</div>
</body></html>
